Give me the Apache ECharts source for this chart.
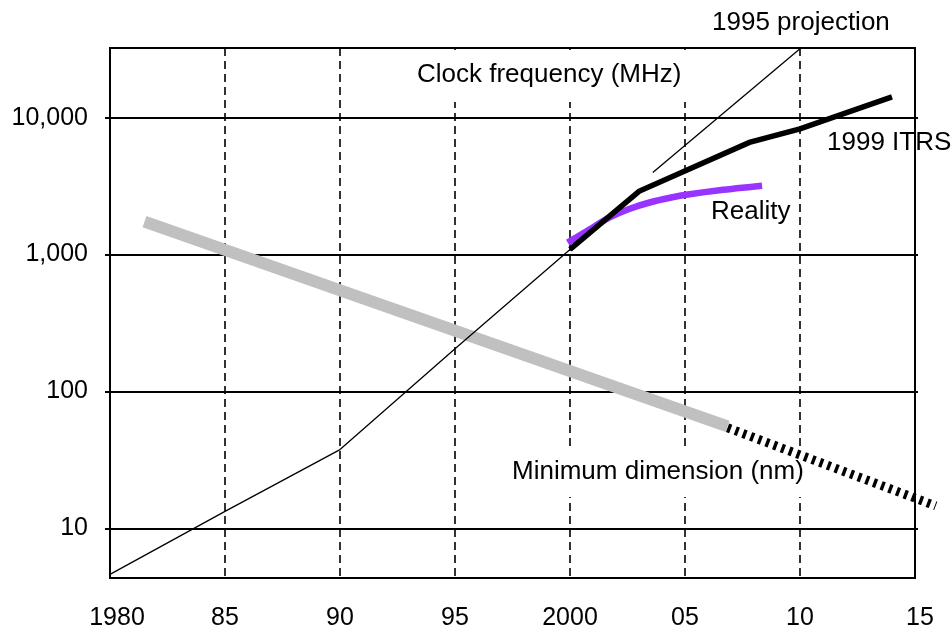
<!DOCTYPE html>
<html>
<head>
<meta charset="utf-8">
<script src="https://cdn.jsdelivr.net/npm/echarts@6/dist/echarts.min.js"></script>
<style>
  html, body { margin: 0; padding: 0; background: #fff; }
  #chart { width: 951px; height: 631px; }
</style>
</head>
<body>
<div id="chart"></div>
<script>
// ---- data ----
var xTickYears = [1980, 1985, 1990, 1995, 2000, 2005, 2010, 2015];
var xTickLabels = ['1980', '85', '90', '95', '2000', '05', '10', '15'];
var yTickValues = [10, 100, 1000, 10000];
var yTickLabels = ['10', '100', '1,000', '10,000'];

// Clock frequency (MHz), historical
var clockYears = [1980, 1985, 1990, 1995, 2000];
var clockMHz   = [4.6, 13.3, 37.6, 205, 1090];

// 1995 projection
var proj1995Years = [2003.6, 2010];
var proj1995MHz   = [3980, 32000];

// 1999 ITRS
var itrsYears = [2000, 2003, 2007.8, 2010, 2014];
var itrsMHz   = [1090, 2900, 6600, 8300, 14200];

// Reality
var realityYears = [1999.9, 2000.9, 2001.7, 2002.6, 2003.5, 2004.35, 2005.2, 2006.5, 2008.35];
var realityMHz   = [1223, 1547, 1860, 2163, 2413, 2601, 2757, 2950, 3181];

// Minimum dimension (nm)
var minDimYears = [1981.5, 2006.85];
var minDimNm    = [1740, 55.6];
var minDimProjYears = [2006.85, 2015.9];
var minDimProjNm    = [55.6, 15];

function pairs(xs, ys) { return xs.map(function (x, i) { return [x, ys[i]]; }); }

var FONT = '"Liberation Sans", Arial, Helvetica, sans-serif';
var X_MIN = 1980, X_MAX = 2015, X_MAX_WIDE = 2016.5;
var Y_MIN = 4.33, Y_MAX = 32350;
var GRID_LEFT = 110, GRID_RIGHT = 36, GRID_TOP = 48, GRID_BOTTOM = 51;
var pxPerYear = (951 - GRID_LEFT - GRID_RIGHT) / (X_MAX - X_MIN);

var chart = echarts.init(document.getElementById('chart'), null, { renderer: 'canvas' });

var option = {
  backgroundColor: '#fff',
  animation: false,
  grid: [{
    left: GRID_LEFT, right: GRID_RIGHT, top: GRID_TOP, bottom: GRID_BOTTOM,
    show: true, borderColor: '#000', borderWidth: 2, backgroundColor: 'transparent'
  }, {
    // same scale, wider range: lets the projected line run past the frame
    left: GRID_LEFT, top: GRID_TOP, bottom: GRID_BOTTOM,
    width: pxPerYear * (X_MAX_WIDE - X_MIN), show: false
  }],
  xAxis: [{
    type: 'value', min: X_MIN, max: X_MAX, interval: 5, gridIndex: 0,
    axisLine: { show: true, lineStyle: { color: '#000', width: 2 } },
    axisTick: { show: false },
    splitLine: { show: true, lineStyle: { color: '#000', width: 1.6, type: [8, 5] } },
    axisLabel: {
      color: '#000', fontSize: 25, fontFamily: FONT, margin: 28,
      formatter: function (v) {
        var i = xTickYears.indexOf(Math.round(v));
        if (i < 0) return '';
        if (i === 0) return '{first|' + xTickLabels[i] + '}';
        if (i === xTickYears.length - 1) return '{last|' + xTickLabels[i] + '}';
        return xTickLabels[i];
      },
      rich: {
        first: { fontSize: 25, fontFamily: FONT, color: '#000', padding: [0, 0, 0, 14] },
        last: { fontSize: 25, fontFamily: FONT, color: '#000', padding: [0, 0, 0, 10] }
      }
    }
  }, {
    type: 'value', min: X_MIN, max: X_MAX_WIDE, gridIndex: 1, show: false
  }],
  yAxis: [{
    type: 'log', logBase: 10, min: Y_MIN, max: Y_MAX, gridIndex: 0,
    axisLine: { show: true, lineStyle: { color: '#000', width: 2 } },
    axisTick: { show: true, length: 5, lineStyle: { color: '#000', width: 2 }, customValues: yTickValues },
    splitLine: { show: true, lineStyle: { color: '#000', width: 2 } },
    axisLabel: {
      color: '#000', fontSize: 25, fontFamily: FONT, margin: 22,
      customValues: yTickValues,
      formatter: function (v) {
        var i = yTickValues.indexOf(Math.round(v));
        return i >= 0 ? yTickLabels[i] : '';
      }
    }
  }, {
    type: 'log', logBase: 10, min: Y_MIN, max: Y_MAX, position: 'right', gridIndex: 0,
    axisLine: { show: false },
    axisTick: { show: true, length: 3, lineStyle: { color: '#000', width: 2 }, customValues: yTickValues },
    splitLine: { show: false },
    axisLabel: { show: false }
  }, {
    type: 'log', logBase: 10, min: Y_MIN, max: Y_MAX, gridIndex: 1, show: false
  }],
  series: [
    {
      name: 'Minimum dimension (nm)', type: 'line', data: pairs(minDimYears, minDimNm),
      showSymbol: false, symbol: 'none', z: 2,
      lineStyle: { color: '#c0c0c0', width: 12, cap: 'butt' }
    },
    {
      name: 'Minimum dimension projected', type: 'line', data: pairs(minDimProjYears, minDimProjNm),
      xAxisIndex: 1, yAxisIndex: 2, clip: false,
      showSymbol: false, symbol: 'none', z: 3,
      lineStyle: { color: '#000', width: 9, type: [3.4, 4.8], cap: 'butt' }
    },
    {
      name: 'Clock frequency (MHz)', type: 'line', data: pairs(clockYears, clockMHz),
      showSymbol: false, symbol: 'none', z: 3,
      lineStyle: { color: '#000', width: 1.3 }
    },
    {
      name: '1995 projection', type: 'line', data: pairs(proj1995Years, proj1995MHz),
      showSymbol: false, symbol: 'none', z: 3,
      lineStyle: { color: '#000', width: 1.3 }
    },
    {
      name: 'Reality', type: 'line', data: pairs(realityYears, realityMHz),
      showSymbol: false, symbol: 'none', smooth: 0.3, z: 4,
      lineStyle: { color: '#9933ff', width: 6.5, cap: 'butt' }
    },
    {
      name: '1999 ITRS', type: 'line', data: pairs(itrsYears, itrsMHz),
      showSymbol: false, symbol: 'none', z: 5,
      lineStyle: { color: '#000', width: 5.5, cap: 'butt', join: 'miter' }
    }
  ],
  graphic: [
    { type: 'rect', z: 1, shape: { x: 410, y: 50, width: 282, height: 52 }, style: { fill: '#fff' } },
    { type: 'rect', z: 1, shape: { x: 505, y: 446, width: 307, height: 51 }, style: { fill: '#fff' } },
    { type: 'text', z: 1, x: 417, y: 75, style: { text: 'Clock frequency (MHz)', fill: '#000', fontSize: 26, fontFamily: FONT, align: 'left', verticalAlign: 'middle' } },
    { type: 'text', z: 1, x: 512, y: 472, style: { text: 'Minimum dimension (nm)', fill: '#000', fontSize: 26, fontFamily: FONT, align: 'left', verticalAlign: 'middle' } },
    { type: 'text', z: 6, x: 712, y: 23, style: { text: '1995 projection', fill: '#000', fontSize: 26, fontFamily: FONT, align: 'left', verticalAlign: 'middle' } },
    { type: 'text', z: 6, x: 827, y: 143, style: { text: '1999 ITRS', fill: '#000', fontSize: 26, fontFamily: FONT, align: 'left', verticalAlign: 'middle' } },
    { type: 'text', z: 6, x: 711, y: 212, style: { text: 'Reality', fill: '#000', fontSize: 26, fontFamily: FONT, align: 'left', verticalAlign: 'middle' } }
  ]
};

chart.setOption(option);
</script>
</body>
</html>
